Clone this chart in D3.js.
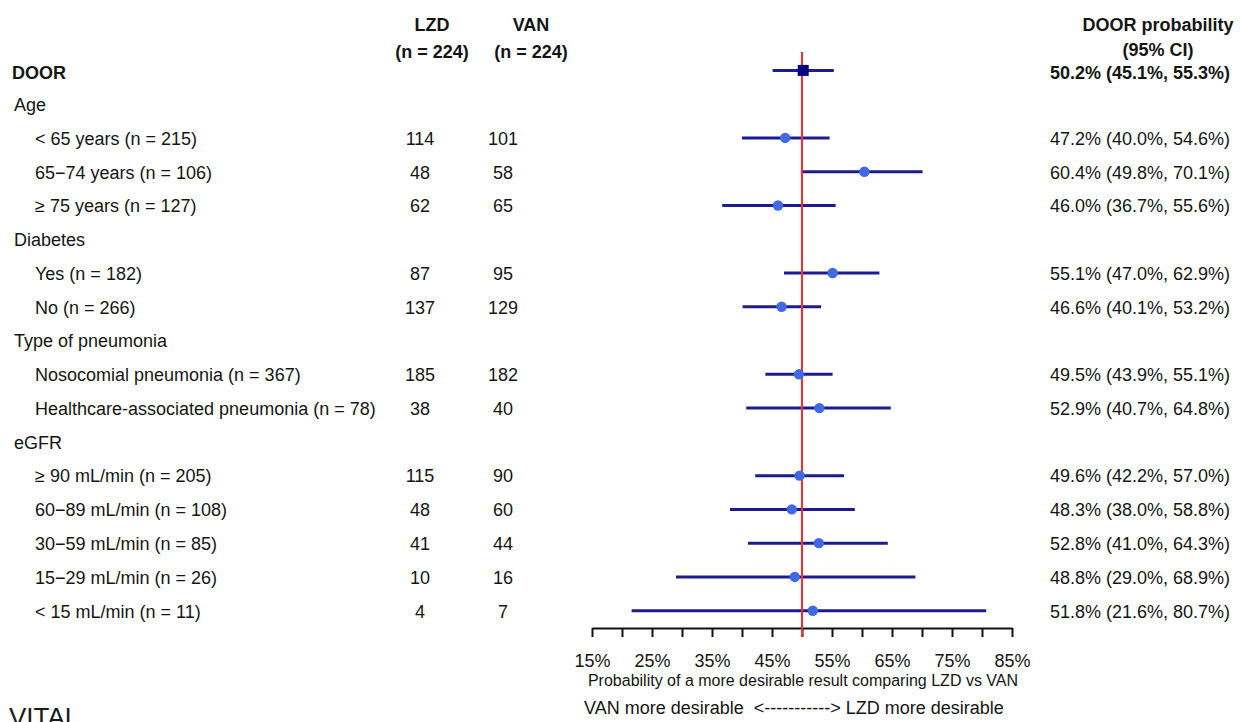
<!DOCTYPE html>
<html>
<head>
<meta charset="utf-8">
<script src="https://cdn.jsdelivr.net/npm/d3@7/dist/d3.min.js"></script>
<style>
  html, body { margin: 0; padding: 0; background: #fff; }
  svg { display: block; font-family: "Liberation Sans", Arial, sans-serif; }
</style>
</head>
<body>
<svg id="chart" width="1240" height="722"></svg>
<script>
// Row labels; kind: "main" = overall DOOR row, "group" = subgroup heading, "sub" = subgroup level
const rowLabels = [
  "DOOR", "Age", "< 65 years (n = 215)", "65\u221274 years (n = 106)", "\u2265 75 years (n = 127)",
  "Diabetes", "Yes (n = 182)", "No (n = 266)",
  "Type of pneumonia", "Nosocomial pneumonia (n = 367)", "Healthcare-associated pneumonia (n = 78)",
  "eGFR", "\u2265 90 mL/min (n = 205)", "60\u221289 mL/min (n = 108)", "30\u221259 mL/min (n = 85)",
  "15\u221229 mL/min (n = 26)", "< 15 mL/min (n = 11)"
];
const rowKinds = [
  "main", "group", "sub", "sub", "sub",
  "group", "sub", "sub",
  "group", "sub", "sub",
  "group", "sub", "sub", "sub", "sub", "sub"
];
const lzdCounts = [null, null, 114, 48, 62, null, 87, 137, null, 185, 38, null, 115, 48, 41, 10, 4];
const vanCounts = [null, null, 101, 58, 65, null, 95, 129, null, 182, 40, null, 90, 60, 44, 16, 7];
// DOOR probability (%) with 95% CI
const estimate = [50.2, null, 47.2, 60.4, 46.0, null, 55.1, 46.6, null, 49.5, 52.9, null, 49.6, 48.3, 52.8, 48.8, 51.8];
const ciLow    = [45.1, null, 40.0, 49.8, 36.7, null, 47.0, 40.1, null, 43.9, 40.7, null, 42.2, 38.0, 41.0, 29.0, 21.6];
const ciHigh   = [55.3, null, 54.6, 70.1, 55.6, null, 62.9, 53.2, null, 55.1, 64.8, null, 57.0, 58.8, 64.3, 68.9, 80.7];
const axisTicks = [15, 20, 25, 30, 35, 40, 45, 50, 55, 60, 65, 70, 75, 80, 85];
const axisLabelTicks = [15, 25, 35, 45, 55, 65, 75, 85];
const nullValue = 50;

const rows = rowLabels.map((label, i) => ({
  i, label, kind: rowKinds[i], lzd: lzdCounts[i], van: vanCounts[i],
  est: estimate[i], lo: ciLow[i], hi: ciHigh[i]
}));

const svg = d3.select("#chart");
const FS = 18;
const textColor = "#151515";

const x = d3.scaleLinear().domain([15, 85]).range([592, 1012]);
const y = d3.scalePoint().domain(d3.range(rows.length)).range([70.4, 610.7]);

const headLZD = 432, headVAN = 531, colLZD = 420, colVAN = 503;
const colProbRight = 1230, colProbHead = 1158;

// Column headers
const head = svg.append("g").attr("font-size", FS).attr("font-weight", "bold")
  .attr("fill", textColor).attr("text-anchor", "middle");
head.append("text").attr("x", headLZD).attr("y", 31).text("LZD");
head.append("text").attr("x", headVAN).attr("y", 31).text("VAN");
head.append("text").attr("x", headLZD).attr("y", 58).text("(n = 224)");
head.append("text").attr("x", headVAN).attr("y", 58).text("(n = 224)");
head.append("text").attr("x", colProbHead).attr("y", 31).text("DOOR probability");
head.append("text").attr("x", colProbHead).attr("y", 56).text("(95% CI)");

// Row text
const rowG = svg.append("g").attr("font-size", FS).attr("fill", textColor);
const textY = d => y(d.i) + (d.kind === "main" ? 2.5 : 0.5);

rowG.selectAll("text.label").data(rows).join("text")
  .attr("class", "label")
  .attr("x", d => d.kind === "sub" ? 35 : (d.kind === "main" ? 12 : 14))
  .attr("y", textY).attr("dy", "0.35em")
  .attr("font-weight", d => d.kind === "main" ? "bold" : null)
  .text(d => d.label);

rowG.selectAll("text.lzd").data(rows.filter(d => d.lzd != null)).join("text")
  .attr("class", "lzd").attr("text-anchor", "middle")
  .attr("x", colLZD).attr("y", textY).attr("dy", "0.35em")
  .text(d => d.lzd);

rowG.selectAll("text.van").data(rows.filter(d => d.van != null)).join("text")
  .attr("class", "van").attr("text-anchor", "middle")
  .attr("x", colVAN).attr("y", textY).attr("dy", "0.35em")
  .text(d => d.van);

const pct = v => v.toFixed(1) + "%";
rowG.selectAll("text.prob").data(rows.filter(d => d.est != null)).join("text")
  .attr("class", "prob").attr("text-anchor", "end")
  .attr("x", colProbRight).attr("y", textY).attr("dy", "0.35em")
  .attr("font-weight", d => d.kind === "main" ? "bold" : null)
  .text(d => `${pct(d.est)} (${pct(d.lo)}, ${pct(d.hi)})`);

// Axis
const axisY = 628;
const axis = d3.axisBottom(x)
  .tickValues(axisTicks)
  .tickSize(9)
  .tickSizeOuter(0)
  .tickPadding(17)
  .tickFormat(d => axisLabelTicks.includes(d) ? d + "%" : "");
const axisG = svg.append("g").attr("transform", `translate(0,${axisY})`).call(axis);
axisG.select(".domain").attr("stroke", "#111").attr("stroke-width", 2);
axisG.selectAll(".tick line").attr("stroke", "#111").attr("stroke-width", 2);
axisG.selectAll(".tick text").attr("font-size", FS).attr("fill", textColor)
  .attr("font-family", "Liberation Sans, Arial, sans-serif");

svg.append("text").attr("x", 803).attr("y", 686).attr("text-anchor", "middle")
  .attr("font-size", 16).attr("fill", textColor)
  .text("Probability of a more desirable result comparing LZD vs VAN");
svg.append("text").attr("x", 794).attr("y", 714).attr("text-anchor", "middle")
  .attr("font-size", FS).attr("fill", textColor).attr("xml:space", "preserve")
  .text("VAN more desirable  <-----------> LZD more desirable");

// Confidence intervals
const plotRows = rows.filter(d => d.est != null);
svg.append("g").selectAll("line").data(plotRows).join("line")
  .attr("x1", d => x(d.lo)).attr("x2", d => x(d.hi))
  .attr("y1", d => y(d.i)).attr("y2", d => y(d.i))
  .attr("stroke", "#1c1c8f").attr("stroke-width", 3);

// Reference line at 50%
svg.append("line")
  .attr("x1", x(nullValue)).attr("x2", x(nullValue))
  .attr("y1", 52).attr("y2", axisY + 9)
  .attr("stroke", "#ff2a2a").attr("stroke-width", 2);

// Point estimates: square for overall, circles for subgroups
svg.append("g").selectAll("circle").data(plotRows.filter(d => d.kind !== "main")).join("circle")
  .attr("cx", d => x(d.est)).attr("cy", d => y(d.i)).attr("r", 5.2)
  .attr("fill", "#4169e1");
const mainRow = plotRows.filter(d => d.kind === "main");
svg.append("g").selectAll("rect").data(mainRow).join("rect")
  .attr("x", d => x(d.est) - 5.5).attr("y", d => y(d.i) - 5.5)
  .attr("width", 11).attr("height", 11)
  .attr("fill", "#000080");

// Study name
svg.append("text").attr("x", 9).attr("y", 726)
  .attr("font-size", 26).attr("fill", "#1a1a1a").text("VITAL");
</script>
</body>
</html>
